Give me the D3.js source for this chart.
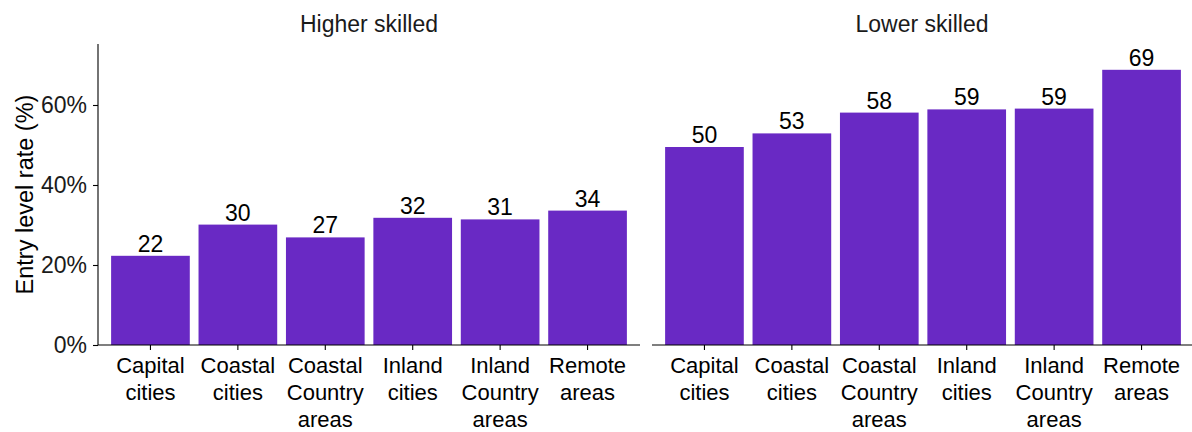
<!DOCTYPE html>
<html>
<head>
<meta charset="utf-8">
<script src="https://cdn.jsdelivr.net/npm/d3@7"></script>
<style>
  html, body { margin: 0; padding: 0; background: #fff; }
  svg { display: block; font-family: "Liberation Sans", Arial, sans-serif; }
</style>
</head>
<body>
<svg id="chart" width="1192" height="432"></svg>
<script>
const categories = ["Capital cities", "Coastal cities", "Coastal Country areas", "Inland cities", "Inland Country areas", "Remote areas"];
const categoryLines = [["Capital", "cities"], ["Coastal", "cities"], ["Coastal", "Country", "areas"], ["Inland", "cities"], ["Inland", "Country", "areas"], ["Remote", "areas"]];
const panels = ["Higher skilled", "Lower skilled"];
const higherSkilled = [22.3, 30.1, 26.9, 31.8, 31.4, 33.6];
const lowerSkilled = [49.5, 52.9, 58.1, 58.9, 59.1, 68.8];
const yTicks = [0, 20, 40, 60];
const yTitle = "Entry level rate (%)";

const seriesByPanel = [higherSkilled, lowerSkilled];
const svg = d3.select("#chart");
const barColor = "#6929c4";

const y = d3.scaleLinear().domain([0, 75.25]).range([345, 44]);
const panelRanges = [[98, 640], [652, 1194]];

// y axis (only on left panel)
const yAxis = d3.axisLeft(y).tickValues(yTicks).tickFormat(d => d + "%").tickSize(5).tickPadding(6);
const yg = svg.append("g").attr("transform", `translate(${panelRanges[0][0]},0)`).call(yAxis);
yg.select(".domain").attr("stroke", "#000").attr("stroke-width", 1.1).attr("d", `M0,${y(0)}V${y.range()[1]}`);
yg.selectAll(".tick line").attr("stroke", "#000").attr("stroke-width", 1.1);
yg.selectAll(".tick text").attr("fill", "#1a1a1a").style("font-size", "23px").style("font-family", "'Liberation Sans', Arial, sans-serif");

svg.append("text")
  .attr("transform", `translate(33,${(y(0) + y.range()[1]) / 2}) rotate(-90)`)
  .attr("text-anchor", "middle")
  .attr("fill", "#000")
  .style("font-size", "23.5px")
  .text(yTitle);

panels.forEach((panel, pi) => {
  const vals = seriesByPanel[pi];
  const x = d3.scaleBand().domain(categories).range(panelRanges[pi]).paddingInner(0.1).paddingOuter(0.15);
  const g = svg.append("g");

  g.selectAll("rect").data(categories).enter().append("rect")
    .attr("x", d => x(d))
    .attr("width", x.bandwidth())
    .attr("y", (d, i) => y(vals[i]))
    .attr("height", (d, i) => y(0) - y(vals[i]))
    .attr("fill", barColor);

  g.selectAll("text.val").data(categories).enter().append("text")
    .attr("class", "val")
    .attr("x", d => x(d) + x.bandwidth() / 2)
    .attr("y", (d, i) => y(vals[i]) - 4)
    .attr("text-anchor", "middle")
    .attr("fill", "#000")
    .style("font-size", "23px")
    .text((d, i) => Math.round(vals[i]));

  const xAxis = d3.axisBottom(x).tickSize(5).tickFormat("");
  const xg = svg.append("g").attr("transform", `translate(0,${y(0)})`).call(xAxis);
  xg.select(".domain").attr("stroke", "#000").attr("stroke-width", 1.1).attr("d", `M${panelRanges[pi][0]},0H${panelRanges[pi][1]}`);
  xg.selectAll(".tick line").attr("stroke", "#000").attr("stroke-width", 1.1);

  categories.forEach((c, i) => {
    const t = svg.append("text")
      .attr("x", x(c) + x.bandwidth() / 2)
      .attr("y", 373)
      .attr("text-anchor", "middle")
      .attr("fill", "#000")
      .style("font-size", "22px");
    categoryLines[i].forEach((ln, li) => {
      t.append("tspan").attr("x", x(c) + x.bandwidth() / 2).attr("y", 373 + li * 27).text(ln);
    });
  });

  svg.append("text")
    .attr("x", pi === 0 ? 369 : 922)
    .attr("y", 32)
    .attr("text-anchor", "middle")
    .attr("fill", "#1a1a1a")
    .style("font-size", "23px")
    .text(panel);
});
</script>
</body>
</html>
